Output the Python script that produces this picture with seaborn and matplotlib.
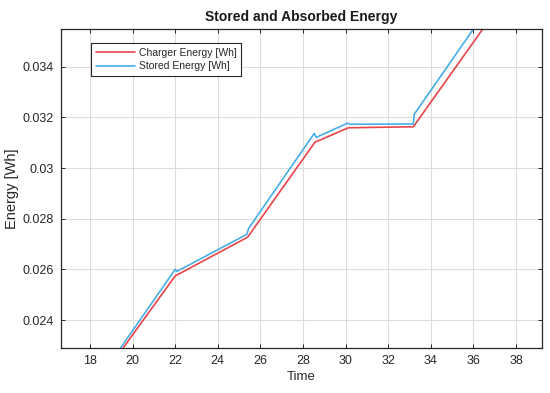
import matplotlib
matplotlib.use("Agg")
import matplotlib.pyplot as plt
import seaborn as sns
import pandas as pd

charger_time = [19.56, 22.0, 25.40, 28.56, 30.13, 33.18, 36.44]
charger_energy = [0.02290, 0.02574, 0.02727, 0.03102, 0.03159, 0.03163, 0.03549]

stored_time = [19.44, 22.0, 22.08, 25.36, 25.45, 28.53, 28.62, 30.08, 30.2, 33.18, 33.22, 36.0]
stored_energy = [0.02290, 0.02600, 0.02592, 0.02738, 0.02762, 0.03137, 0.03121,
                 0.03177, 0.03173, 0.03174, 0.03212, 0.03549]

x_ticks = [18, 20, 22, 24, 26, 28, 30, 32, 34, 36, 38]
y_ticks = [0.024, 0.026, 0.028, 0.030, 0.032, 0.034]
y_tick_labels = ["0.024", "0.026", "0.028", "0.03", "0.032", "0.034"]

sns.set_theme(style="white")
plt.rcParams['font.family'] = ['Liberation Sans', 'DejaVu Sans']

df = pd.concat([
    pd.DataFrame({"Time": charger_time, "Energy": charger_energy, "Series": "Charger Energy [Wh]"}),
    pd.DataFrame({"Time": stored_time, "Energy": stored_energy, "Series": "Stored Energy [Wh]"}),
])

fig = plt.figure(figsize=(5.5, 3.93), dpi=100)
ax = fig.add_axes([0.1109, 0.1145, 0.8746, 0.8117])

sns.lineplot(data=df, x="Time", y="Energy", hue="Series", estimator=None, sort=False,
             palette={"Charger Energy [Wh]": "#e8444a", "Stored Energy [Wh]": "#48aee6"},
             linewidth=1.2, ax=ax)

ax.set_xlim(16.64, 39.22)
ax.set_ylim(0.022895, 0.03549)
ax.set_xticks(x_ticks)
ax.set_xticklabels([str(t) for t in x_ticks])
ax.set_yticks(y_ticks)
ax.set_yticklabels(y_tick_labels)
ax.grid(True, color="#dcdcdc", linewidth=0.8)
ax.set_axisbelow(True)
for s in ax.spines.values():
    s.set_color("#262626")
    s.set_linewidth(0.9)
ax.tick_params(axis="both", direction="in", length=3, width=0.7, colors="#262626",
               labelsize=9, labelcolor="#262626", top=True, right=True, bottom=True, left=True,
               pad=5)
ax.set_xlabel("Time", fontsize=9.5, color="#262626", labelpad=3)
ax.set_ylabel("Energy [Wh]", fontsize=10.5, color="#262626", labelpad=3)
ax.set_title("Stored and Absorbed Energy", fontsize=10, fontweight="bold", color="#1a1a1a", pad=6)

leg = ax.legend(loc="upper left", bbox_to_anchor=(0.062, 0.956), fontsize=7.5,
                frameon=True, fancybox=False, edgecolor="#262626", framealpha=1,
                handlelength=3.8, borderpad=0.45, labelspacing=0.35, handletextpad=0.35,
                borderaxespad=0)
leg.get_frame().set_linewidth(0.8)

fig.savefig("out.png", dpi=100)
